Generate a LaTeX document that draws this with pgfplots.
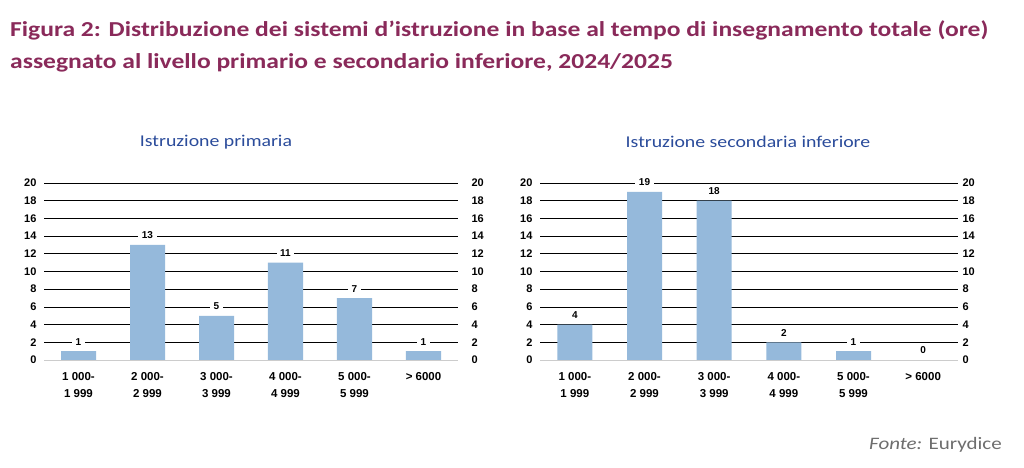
\documentclass[border=0pt]{standalone}
\usepackage{fontspec}
\setmainfont{Liberation Sans}
\newfontfamily\titlefont[FakeStretch=1.2]{Carlito}
\usepackage{pgfplots}
\pgfplotsset{compat=1.18}
\pgfkeys{/pgf/number format/assume math mode=true}
\definecolor{titlecol}{HTML}{8A2A5A}
\definecolor{subcol}{HTML}{2B4C9B}
\definecolor{barcol}{HTML}{95B9DB}
\definecolor{fontecol}{HTML}{6E6E6E}

\pgfplotstableread{
x y
0 1
1 13
2 5
3 11
4 7
5 1
}\primaria
\pgfplotstableread{
x y
0 4
1 19
2 18
3 2
4 1
5 0
}\secondaria

\pgfplotsset{
  panel/.style={
    scale only axis, width=#1, height=177pt,
    xmin=-0.5, xmax=5.5, ymin=0, ymax=20,
    ytick={0,2,...,20}, xtick={0,...,5},
    xticklabels={{1 000-\\1 999},{2 000-\\2 999},{3 000-\\3 999},{4 000-\\4 999},{5 000-\\5 999},{> 6000}},
    xticklabel style={align=center, font=\fontsize{11.5}{17}\selectfont\bfseries},
    yticklabel style={font=\fontsize{11}{13}\selectfont\bfseries, /pgf/number format/assume math mode=true},
    axis line style={draw=none},
    major tick length=0pt,
    tick style={draw=none},
    ymajorgrids, major grid style={black, line width=0.8pt},
    xticklabel shift=9pt,
    yticklabel shift=4pt,
  },
  rightlab/.style={
    scale only axis, width=#1, height=177pt,
    xmin=-0.5, xmax=5.5, ymin=0, ymax=20,
    ytick={0,2,...,20},
    axis y line*=right, axis x line=none,
    axis line style={draw=none},
    major tick length=0pt, tick style={draw=none},
    yticklabel style={font=\fontsize{11}{13}\selectfont\bfseries, anchor=west, /pgf/number format/assume math mode=true},
  },
  barplot/.style={
    ybar, bar width=35pt, fill=barcol, draw=none,
    nodes near coords,
    every node near coord/.append style={anchor=center, yshift=9.5pt, fill=white,
      inner sep=3.5pt, font=\fontsize{10}{11}\selectfont\bfseries, text=black,
      /pgf/number format/assume math mode=true},
  },
}

\begin{document}
\begin{tikzpicture}
\path[use as bounding box, fill=white] (0,0) rectangle (1024pt,-467pt);
\node[anchor=base west, text=titlecol, font=\titlefont\fontsize{21.3}{25}\selectfont\bfseries, inner sep=0] at (10pt,-36pt)
  {Figura 2: Distribuzione dei sistemi d’istruzione in base al tempo di insegnamento totale (ore)};
\node[anchor=base west, text=titlecol, font=\titlefont\fontsize{21.3}{25}\selectfont\bfseries, inner sep=0] at (10pt,-68pt)
  {assegnato al livello primario e secondario inferiore, 2024/2025};
\node[text=subcol, font=\titlefont\fontsize{16.5}{19}\selectfont] at (216pt,-142pt) {Istruzione primaria};
\node[text=subcol, font=\titlefont\fontsize{16.5}{19}\selectfont] at (748pt,-142pt) {Istruzione secondaria inferiore};
\node[anchor=base east, text=fontecol, font=\titlefont\fontsize{17.5}{20}\selectfont, inner sep=0] at (1002pt,-449pt)
  {\textit{Fonte:} Eurydice};

% left panel
\begin{axis}[panel=414pt, at={(44pt,-360pt)}, anchor=south west]
\addplot[barplot] table[x=x,y=y] {\primaria};
\draw[gray!40, line width=0.8pt] (axis cs:-0.5,0) -- (axis cs:5.5,0);
\end{axis}
\begin{axis}[rightlab=414pt, at={(44pt,-360pt)}, anchor=south west, yticklabel shift=10pt]
\addplot[draw=none] coordinates {(0,0)};
\end{axis}

% right panel
\begin{axis}[panel=418pt, at={(540pt,-360pt)}, anchor=south west]
\addplot[barplot] table[x=x,y=y] {\secondaria};
\draw[gray!40, line width=0.8pt] (axis cs:-0.5,0) -- (axis cs:5.5,0);
\end{axis}
\begin{axis}[rightlab=418pt, at={(540pt,-360pt)}, anchor=south west, yticklabel shift=1pt]
\addplot[draw=none] coordinates {(0,0)};
\end{axis}
\end{tikzpicture}
\end{document}
